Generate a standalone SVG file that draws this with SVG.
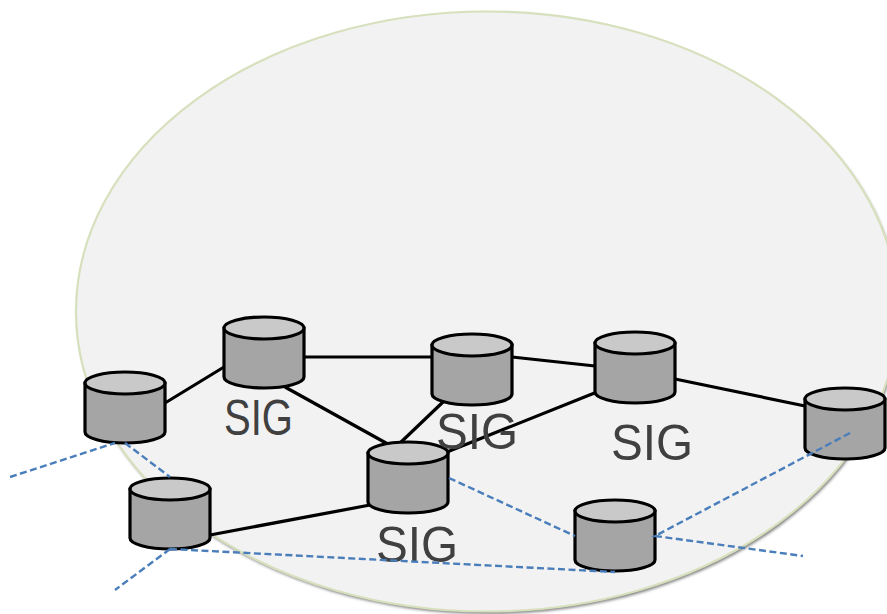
<svg xmlns="http://www.w3.org/2000/svg" width="887" height="614" viewBox="0 0 887 614">
<defs>
<filter id="sh" x="-5%" y="-5%" width="110%" height="110%"><feGaussianBlur stdDeviation="1.6"/></filter>
<g id="cyl">
<path class="body" d="M0 11V60C0 66 18 71 40 71S80 66 80 60V11Z"/>
<ellipse class="top" cx="40" cy="11" rx="40" ry="11"/>
</g>
</defs>
<style>
.body{fill:#a5a5a5;stroke:#000;stroke-width:3.2}
.top{fill:#c9c9c9;stroke:#000;stroke-width:3.2}
.k{stroke:#000;stroke-width:3.2;fill:none}
.b{stroke:#4a7ebb;stroke-width:2.4;fill:none;stroke-dasharray:7 3.5}
.t{font-family:"Liberation Sans",Arial,sans-serif;font-size:50px;fill:#404040}
</style>
<rect width="887" height="614" fill="#fff"/>
<g id="region">
<ellipse cx="488.500" cy="314" rx="411" ry="300" fill="#000" opacity=".5" filter="url(#sh)"/>
<ellipse cx="487" cy="311.500" rx="411" ry="300" fill="#f2f2f2" stroke="#d7e0bd" stroke-width="2.200"/>
</g>
<g id="connectors">
<path class="k" d="M165 403L224 367M304 357H432M512 357L595 366M675 379L805 406M285 387L395 448M443 402L399 444M597 392L437 456M210 535L370 505"/>
</g>
<g id="node1"><use href="#cyl" x="85" y="372"/></g>
<g id="node2"><use href="#cyl" x="224" y="317"/><text class="t" x="224" y="435" textLength="69" lengthAdjust="spacingAndGlyphs">SIG</text></g>
<g id="node3"><use href="#cyl" x="432" y="334"/></g>
<g id="node4"><use href="#cyl" x="595" y="332"/><text class="t" x="611" y="460" textLength="82" lengthAdjust="spacingAndGlyphs">SIG</text></g>
<g id="node5"><use href="#cyl" x="805" y="388"/></g>
<g id="node6"><use href="#cyl" x="130" y="478"/></g>
<g id="node7"><use href="#cyl" x="368" y="442"/><text class="t" x="376" y="562" textLength="82" lengthAdjust="spacingAndGlyphs">SIG</text></g>
<g id="node8"><use href="#cyl" x="575" y="500"/></g>
<g id="node3-label"><text class="t" x="436" y="449" textLength="82" lengthAdjust="spacingAndGlyphs">SIG</text></g>
<g id="links">
<path class="b" d="M10 477L115 443M125 443L170 477M170 549L115 590M170 549L615 572M449 478L575 536M850 433L655 536L803 556"/>
</g>
</svg>
